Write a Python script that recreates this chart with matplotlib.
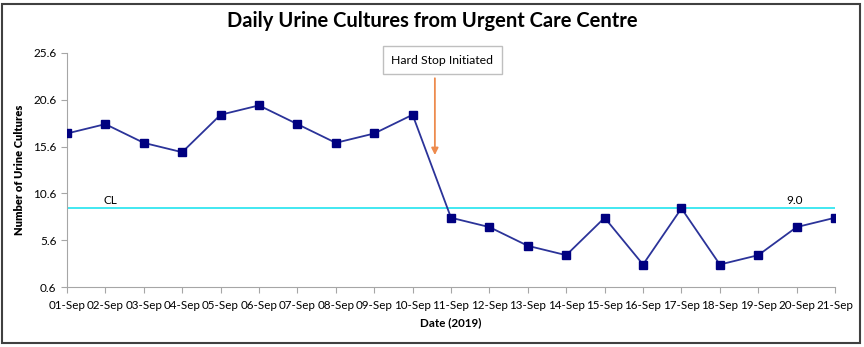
import matplotlib
matplotlib.use("Agg")
import matplotlib.pyplot as plt
from matplotlib.patches import Rectangle

plt.rcParams['font.family'] = ['Lato', 'DejaVu Sans']

dates = ["01-Sep", "02-Sep", "03-Sep", "04-Sep", "05-Sep", "06-Sep", "07-Sep",
         "08-Sep", "09-Sep", "10-Sep", "11-Sep", "12-Sep", "13-Sep", "14-Sep",
         "15-Sep", "16-Sep", "17-Sep", "18-Sep", "19-Sep", "20-Sep", "21-Sep"]
cultures = [17, 18, 16, 15, 19, 20, 18, 16, 17, 19,
            8, 7, 5, 4, 8, 3, 9, 3, 4, 7, 8]
center_line = 9.0
y_ticks = [0.6, 5.6, 10.6, 15.6, 20.6, 25.6]
intervention_label = "Hard Stop Initiated"
intervention_x = 9.58

fig = plt.figure(figsize=(8.64, 3.47), dpi=100)
ax = fig.add_axes([0.0775, 0.1729, 0.889, 0.6744])

x = list(range(len(dates)))
ax.axhline(center_line, color="#33E6F0", lw=1.3, zorder=1)
ax.plot(x, cultures, color="#2B3399", lw=1.3, marker="s", markersize=6,
        markerfacecolor="#000080", markeredgecolor="#000080", zorder=3)

ax.set_xlim(0, len(dates) - 1)
ax.set_ylim(y_ticks[0], y_ticks[-1])
ax.set_xticks(x)
ax.set_xticklabels(dates, fontsize=8.4)
ax.set_yticks(y_ticks)
ax.set_yticklabels([f"{v:.1f}" for v in y_ticks], fontsize=8.5)
for s in ("top", "right"):
    ax.spines[s].set_visible(False)
for s in ("left", "bottom"):
    ax.spines[s].set_color("#A6A6A6")
ax.tick_params(axis="both", colors="#A6A6A6", labelcolor="black", length=4, direction="out")
ax.tick_params(axis="x", pad=5)

ax.set_xlabel("Date (2019)", fontsize=8.4, fontweight="bold", labelpad=5)
ax.set_ylabel("Number of Urine Cultures", fontsize=8, fontweight="heavy", labelpad=6)

ax.text(1.12, center_line + 0.25, "CL", fontsize=8.5, ha="center", va="bottom")
ax.text(18.96, center_line + 0.25, f"{center_line:.1f}", fontsize=8.5, ha="center", va="bottom")

ax.annotate("", xy=(intervention_x, 14.4), xytext=(intervention_x, 23.2),
            arrowprops=dict(arrowstyle="-|>", color="#ED8B4E", lw=1.3, mutation_scale=10))
ax.text(9.77, 24.85, intervention_label, fontsize=8.8, ha="center", va="center",
        bbox=dict(boxstyle="square,pad=0.7", fc="white", ec="#BFBFBF", lw=1))

fig.text(0.5, 0.94, "Daily Urine Cultures from Urgent Care Centre", ha="center", va="center",
         fontsize=14.5, fontweight="bold")

fig.patches.append(Rectangle((2 / 864, 4 / 347), 858 / 864, 339 / 347, transform=fig.transFigure,
                             fill=False, ec="#404040", lw=1.5))

fig.savefig("out.png", dpi=100)
